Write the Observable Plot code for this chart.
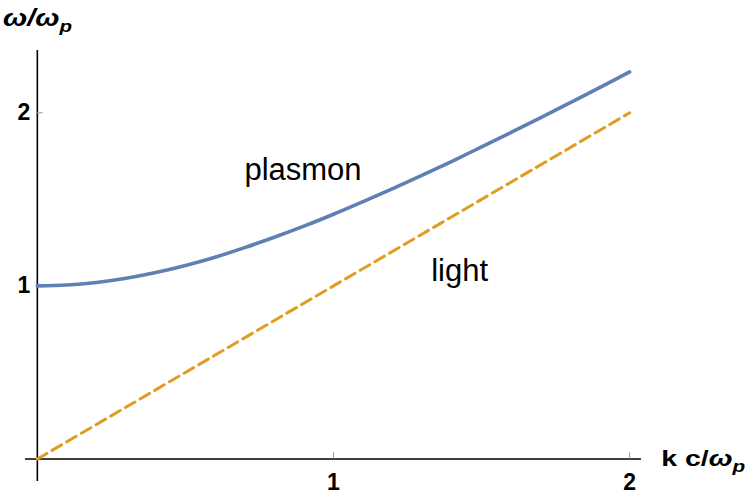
<!DOCTYPE html>
<html>
<head>
<meta charset="utf-8">
<script src="https://cdn.jsdelivr.net/npm/d3@7"></script>
<script src="https://cdn.jsdelivr.net/npm/@observablehq/plot@0.6"></script>
<style>
  html, body { margin: 0; padding: 0; background: #fff; }
</style>
</head>
<body>
<div id="chart"></div>
<script>
// k c / ω_p values along the plasmon curve
const plasmonK = [0, 0.1, 0.2, 0.3, 0.4, 0.5, 0.6, 0.7, 0.8, 0.9, 1.0, 1.1, 1.2, 1.3, 1.4, 1.5, 1.6, 1.7, 1.8, 1.9, 2.0];
// ω / ω_p values
const plasmonW = [1.000, 1.005, 1.020, 1.044, 1.077, 1.118, 1.166, 1.221, 1.281, 1.345, 1.414, 1.487, 1.562, 1.640, 1.720, 1.803, 1.887, 1.972, 2.059, 2.147, 2.236];
// light line
const lightK = [0, 0.5, 1.0, 1.5, 2.0];
const lightW = [0, 0.5, 1.0, 1.5, 2.0];
// ticks
const xTicks = [1, 2];
const yTicks = [1, 2];
const xTickLabels = ["1", "2"];
const yTickLabels = ["1", "2"];
// curve labels
const labelNames = ["plasmon", "light"];
const labelK = [0.897, 1.426];
const labelW = [1.671, 1.087];

const plasmon = plasmonK.map((k, i) => ({k, w: plasmonW[i]}));
const light = lightK.map((k, i) => ({k, w: lightW[i]}));
const labels = labelNames.map((t, i) => ({t, k: labelK[i], w: labelW[i]}));

const font = "\"Liberation Sans\", Arial, sans-serif";

const plot = Plot.plot({
  width: 750,
  height: 500,
  marginLeft: 25,
  marginRight: 109,
  marginTop: 50,
  marginBottom: 19,
  x: {type: "linear", domain: [-0.04, 2.04], axis: null},
  y: {type: "linear", domain: [-0.13, 2.36], axis: null},
  style: {fontFamily: font, background: "#fff"},
  marks: [
    // axes
    Plot.ruleY([0], {stroke: "#000", strokeWidth: 1.6}),
    Plot.ruleX([0], {stroke: "#000", strokeWidth: 1.6}),
    // tick marks
    Plot.ruleX(xTicks, {x: d => d, y1: 0, y2: 0.035, stroke: "#999", strokeWidth: 1}),
    Plot.ruleY(yTicks, {y: d => d, x1: 0, x2: 0.02, stroke: "#999", strokeWidth: 1}),
    // tick labels
    Plot.text(xTicks, {x: d => d, y: 0, text: (d, i) => xTickLabels[i], dy: 24, fontSize: 23, fontWeight: "bold", fill: "#000"}),
    Plot.text(yTicks, {x: 0, y: d => d, text: (d, i) => yTickLabels[i], dx: -7, textAnchor: "end", fontSize: 23, fontWeight: "bold", fill: "#000"}),
    // curves
    Plot.line(light, {x: "k", y: "w", stroke: "#E19C24", strokeWidth: 3, strokeDasharray: "11,6"}),
    Plot.line(plasmon, {x: "k", y: "w", stroke: "#5E81B5", strokeWidth: 3.6, curve: "catmull-rom"}),
    // labels
    Plot.text(labels, {x: "k", y: "w", text: "t", fontSize: 31, fill: "#000"})
  ]
});

document.getElementById("chart").appendChild(plot);

const svg = d3.select(plot);
const sx = plot.scale("x"), sy = plot.scale("y");

// axis titles with subscripts
const yTitle = svg.append("text")
  .attr("x", 3).attr("y", 26)
  .attr("text-anchor", "start")
  .attr("textLength", 69).attr("lengthAdjust", "spacingAndGlyphs")
  .attr("font-size", 24).attr("font-weight", "bold").attr("fill", "#000")
  .attr("font-family", font);
yTitle.append("tspan").attr("font-style", "italic").text("ω/ω");
yTitle.append("tspan").attr("font-style", "italic").attr("font-size", 17).attr("dy", 6).text("p");

const xTitle = svg.append("text")
  .attr("x", sx.apply(2) + 32).attr("y", sy.apply(0) + 8)
  .attr("text-anchor", "start")
  .attr("textLength", 84).attr("lengthAdjust", "spacingAndGlyphs")
  .attr("font-size", 22).attr("font-weight", "bold").attr("fill", "#000")
  .attr("font-family", font);
xTitle.append("tspan").text("k c/");
xTitle.append("tspan").attr("font-style", "italic").text("ω");
xTitle.append("tspan").attr("font-style", "italic").attr("font-size", 16).attr("dy", 6).text("p");
</script>
</body>
</html>
